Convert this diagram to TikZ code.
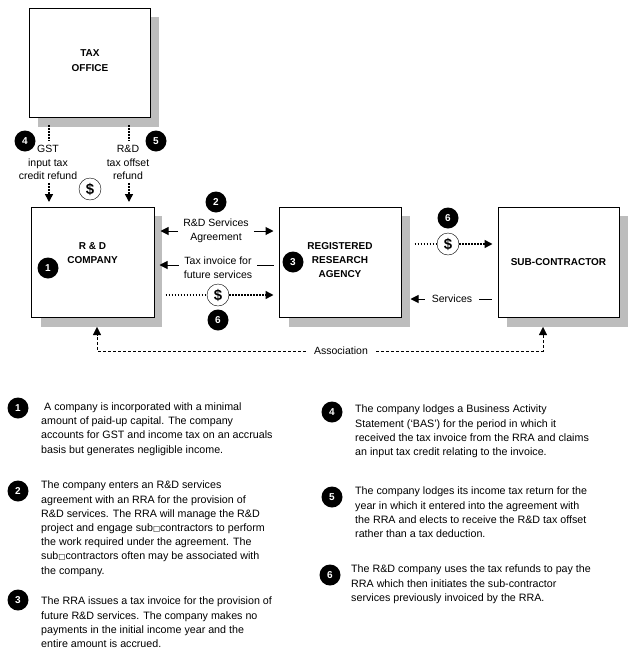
\documentclass[tikz,border=0pt]{standalone}
\usepackage{fontspec}
\setmainfont{Liberation Sans}
\newfontfamily\boxfont{DejaVu Sans}
\usetikzlibrary{arrows.meta,positioning}

\definecolor{shadowgray}{gray}{0.74}
\newcommand{\ph}{{\boxfont\scalebox{0.7}{□}}}

\begin{document}
\begin{tikzpicture}[x=1pt,y=-1pt,>={Triangle[width=8pt,length=8pt]},
entity/.style={draw,line width=1pt,fill=white,inner sep=0pt},
boxtext/.style={font=\fontsize{10}{14.3}\selectfont\bfseries,align=center,inner sep=0pt},
num/.style={circle,fill=black,text=white,inner sep=0pt,minimum size=21pt,font=\fontsize{10}{11}\selectfont\bfseries},
dollar/.style={circle,draw,fill=white,inner sep=0pt,minimum size=22pt,font=\fontsize{15}{16}\selectfont\bfseries},
lbl/.style={font=\fontsize{10.5}{13.8}\selectfont,align=center,inner sep=0pt},
note/.style={font=\fontsize{10.7}{14.2}\selectfont,align=left,anchor=north west,inner sep=0pt},
solid arrow/.style={->,line width=1pt},
dot arrow/.style={->,line width=1.5pt,dash pattern=on 1.5pt off 1.5pt},
dash arrow/.style={->,dash pattern=on 3pt off 2pt}]

\useasboundingbox (0,0) rectangle (640,659);

% shadows
\fill[shadowgray] (38,17) rectangle (159,127);
\fill[shadowgray] (41,216) rectangle (162,327);
\fill[shadowgray] (289,216) rectangle (410,327);
\fill[shadowgray] (507,216) rectangle (628,327);

% boxes
\node[entity,minimum width=121pt,minimum height=109pt,label={[boxtext,yshift=2.5pt]center:TAX\\OFFICE}] (tax) at (90,63) {};
\node[entity,minimum width=123pt,minimum height=110pt,label={[boxtext,yshift=9pt]center:R \& D\\COMPANY}] (company) at (92.5,262) {};
\node[entity,minimum width=122pt,minimum height=110pt,label={[boxtext,yshift=2pt]center:REGISTERED\\RESEARCH\\AGENCY}] (rra) at (340,262) {};
\node[entity,minimum width=121pt,minimum height=110pt,label={[boxtext]center:SUB-CONTRACTOR}] (sub) at (558.5,262) {};

% labels
\node[lbl] (gst) at (48,162.5) {GST\\input tax\\credit refund};
\node[lbl] (offset) at (128,162.5) {R\&D\\tax offset\\refund};
\node[lbl,inner xsep=5pt] (agree) at (216,231) {R\&D Services\\Agreement};
\node[lbl,inner xsep=5pt] (invoice) at (218,268) {Tax invoice for\\future services};
\node[lbl,inner xsep=7pt] (services) at (452,299) {Services};
\node[lbl,inner xsep=8pt] (assoc) at (341,351) {Association};

\node[dollar] (d1) at (90,189) {\$};
\node[dollar] (d2) at (218,295) {\$};
\node[dollar] (d3) at (448,244) {\$};

\node[num] (n4a) at (25,141) {4};
\node[num] (n5a) at (156,141) {5};
\node[num] (n2a) at (216,202) {2};
\node[num] (n1a) at (48,268) {1};
\node[num] (n3a) at (293,262) {3};
\node[num] (n6a) at (218,320) {6};
\node[num] (n6b) at (448,218) {6};

\coordinate (c1) at (49,125);
\coordinate (c2) at (49,183);
\coordinate (c3) at (49,202);
\coordinate (c4) at (129,125);
\coordinate (c5) at (129,183);
\coordinate (c6) at (129,202);
\coordinate (c7) at (97,327);
\coordinate (c8) at (543,327);

% connectors
\draw[dot arrow,-] (c1) -- (c1 |- n4a);
\draw[dot arrow] (c2) -- (c3);
\draw[dot arrow,-] (c4) -- (c4 |- n5a);
\draw[dot arrow] (c5) -- (c6);

\draw[solid arrow,shorten >=6pt] (agree.west) -- (agree.west -| company.east);
\draw[solid arrow,shorten >=5pt] (agree.east) -- (agree.east -| rra.west);
\draw[solid arrow,shorten >=5pt] ([yshift=3pt]invoice.west) -- ([yshift=3pt]invoice.west -| company.east);
\draw[line width=1pt,shorten >=5pt] ([yshift=3pt]invoice.east) -- ([yshift=3pt]invoice.east -| rra.west);
\draw[dot arrow,-,shorten <=11pt] (d2 -| company.east) -- (d2);
\draw[dot arrow,shorten >=5pt] (d2) -- (d2 -| rra.west);
\draw[dot arrow,-,shorten <=13pt] (d3 -| rra.east) -- (d3);
\draw[dot arrow,shorten >=5pt] (d3) -- (d3 -| sub.west);
\draw[solid arrow,shorten >=9pt] (services.west) -- (services.west -| rra.east);
\draw[line width=1pt,shorten >=6pt] (services.east) -- (services.east -| sub.west);

\draw[dash arrow] (assoc.west) -| (c7);
\draw[dash arrow] (assoc.east) -| (c8);

% notes
\node[num] (l1) at (18,408) {1};
\node[num] (l2) at (18,491) {2};
\node[num] (l3) at (18,600) {3};
\node[num] (l4) at (332,412) {4};
\node[num] (l5) at (332,497) {5};
\node[num] (l6) at (330,575) {6};

\node[note] (t1) at (41,402.5) {\ A company is incorporated with a minimal\\amount of paid-up capital. The company\\accounts for GST and income tax on an accruals\\basis but generates negligible income.};
\node[note] (t2) at (41,481) {The company enters an R\&D services\\agreement with an RRA for the provision of\\R\&D services. The RRA will manage the R\&D\\project and engage sub\ph contractors to perform\\the work required under the agreement. The\\sub\ph contractors often may be associated with\\the company.};
\node[note] (t3) at (41,597) {The RRA issues a tax invoice for the provision of\\future R\&D services. The company makes no\\payments in the initial income year and the\\entire amount is accrued.};
\node[note] (t4) at (355,405) {The company lodges a Business Activity\\Statement (`BAS') for the period in which it\\received the tax invoice from the RRA and claims\\an input tax credit relating to the invoice.};
\node[note] (t5) at (355,487) {The company lodges its income tax return for the\\year in which it entered into the agreement with\\the RRA and elects to receive the R\&D tax offset\\rather than a tax deduction.};
\node[note] (t6) at (351,565) {The R\&D company uses the tax refunds to pay the\\RRA which then initiates the sub-contractor\\services previously invoiced by the RRA.};
\end{tikzpicture}
\end{document}
